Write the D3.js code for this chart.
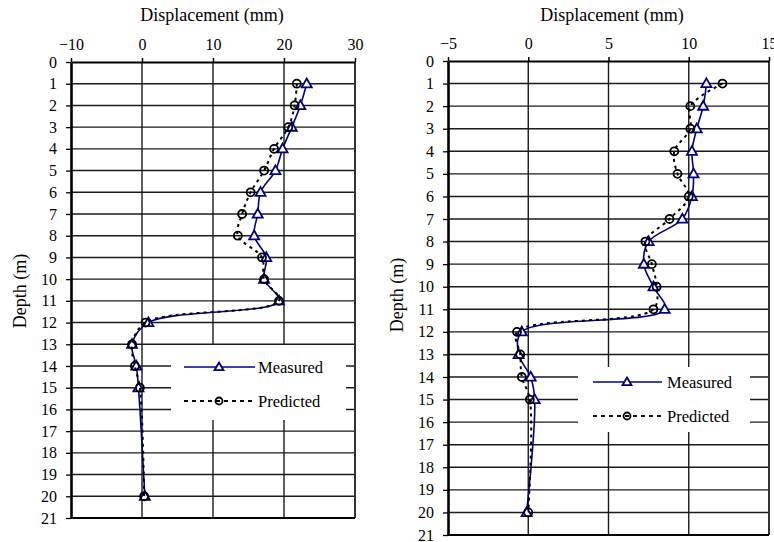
<!DOCTYPE html>
<html>
<head>
<meta charset="utf-8">
<script src="https://cdn.jsdelivr.net/npm/d3@7"></script>
<style>
  body { margin: 0; background: #fff; }
  svg { display: block; }
  svg text { font-family: "Liberation Serif", "Times New Roman", Tinos, "DejaVu Serif", serif !important; fill: #000; }
  .tick text { font-size: 16px; }
  .title { font-size: 18px; }
  .legend { font-size: 16.5px; }
</style>
</head>
<body>
<svg id="chart" width="774" height="542"></svg>
<script>
// ---- Data ----
const depths = [1, 2, 3, 4, 5, 6, 7, 8, 9, 10, 11, 12, 13, 14, 15, 20];

const leftMeasured  = [23.2, 22.3, 21.1, 19.8, 18.8, 16.7, 16.3, 15.8, 17.5, 17.2, 19.3, 0.9, -1.4, -0.8, -0.5, 0.4];
const leftPredicted = [21.8, 21.5, 20.6, 18.6, 17.2, 15.3, 14.1, 13.5, 16.9, 17.2, 19.3, 0.5, -1.4, -1.0, -0.3, 0.3];

const rightMeasured  = [11.1, 10.9, 10.5, 10.2, 10.3, 10.2, 9.6, 7.5, 7.2, 7.8, 8.5, -0.4, -0.6, 0.15, 0.4, -0.1];
const rightPredicted = [12.1, 10.1, 10.1, 9.1, 9.3, 10.0, 8.8, 7.3, 7.7, 8.0, 7.8, -0.7, -0.5, -0.4, 0.1, 0.0];

const leftXTicks  = [-10, 0, 10, 20, 30];
const rightXTicks = [-5, 0, 5, 10, 15];
const depthTicks  = d3.range(0, 22);

const xTitle = "Displacement (mm)";
const yTitle = "Depth (m)";
const seriesNames = ["Measured", "Predicted"];

// ---- Layout ----
const panels = [
  { xDomain: [-10, 30], xTicks: leftXTicks, measured: leftMeasured, predicted: leftPredicted,
    x0: 71, x1: 355, y0: 62, y1: 518, titleX: 212, yTitleX: 20, yTitleY: 291,
    legend: { x0: 171, x1: 346, y0: 345, y1: 420, lineX0: 184, lineX1: 255, mx: 219, textX: 258, y1a: 367, y2a: 401 } },
  { xDomain: [-5, 15], xTicks: rightXTicks, measured: rightMeasured, predicted: rightPredicted,
    x0: 448, x1: 769, y0: 61, y1: 535, titleX: 612, yTitleX: 397, yTitleY: 295,
    legend: { x0: 578, x1: 750, y0: 367, y1: 432, lineX0: 593, lineX1: 662, mx: 627, textX: 667, y1a: 382, y2a: 416 } }
];

const svg = d3.select("#chart");
const navy = "#000080";
const triPath = "M0,-5.2L5,3.6L-5,3.6Z";

panels.forEach(p => {
  const x = d3.scaleLinear().domain(p.xDomain).range([p.x0, p.x1]);
  const y = d3.scaleLinear().domain([0, 21]).range([p.y0, p.y1]);
  const g = svg.append("g");

  // gridlines
  g.append("g").selectAll("line").data(depthTicks.slice(1, -1)).join("line")
    .attr("x1", p.x0).attr("x2", p.x1).attr("y1", d => y(d)).attr("y2", d => y(d))
    .attr("stroke", "#1a1a1a").attr("stroke-width", 1.4);
  g.append("g").selectAll("line").data(p.xTicks.slice(1, -1)).join("line")
    .attr("x1", d => x(d)).attr("x2", d => x(d)).attr("y1", p.y0).attr("y2", p.y1)
    .attr("stroke", "#1a1a1a").attr("stroke-width", 1.4);

  // legend background (hides gridlines)
  const L = p.legend;
  g.append("rect").attr("x", L.x0).attr("y", L.y0).attr("width", L.x1 - L.x0).attr("height", L.y1 - L.y0)
    .attr("fill", "#fff");

  // frame: right and bottom borders
  g.append("line").attr("x1", p.x1).attr("x2", p.x1).attr("y1", p.y0).attr("y2", p.y1)
    .attr("stroke", "#333").attr("stroke-width", 2);
  g.append("line").attr("x1", p.x0).attr("x2", p.x1).attr("y1", p.y1).attr("y2", p.y1)
    .attr("stroke", "#000").attr("stroke-width", 2);

  // top axis
  const xAxis = d3.axisTop(x).tickValues(p.xTicks).tickSize(4).tickPadding(8).tickSizeOuter(0)
    .tickFormat(d3.format("d"));
  const gx = g.append("g").attr("transform", `translate(0,${p.y0})`).call(xAxis)
    .attr("font-family", null).attr("font-size", null);
  gx.select(".domain").attr("stroke", "#000").attr("stroke-width", 1.8);
  gx.selectAll(".tick line").attr("stroke", "#000").attr("stroke-width", 1.5);
  gx.selectAll(".tick text").attr("fill", "#000");

  // left axis
  const yAxis = d3.axisLeft(y).tickValues(depthTicks).tickSize(5).tickPadding(9).tickSizeOuter(0)
    .tickFormat(d3.format("d"));
  const gy = g.append("g").attr("transform", `translate(${p.x0},0)`).call(yAxis)
    .attr("font-family", null).attr("font-size", null);
  gy.select(".domain").attr("stroke", "#000").attr("stroke-width", 2.6);
  gy.selectAll(".tick line").attr("stroke", "#000").attr("stroke-width", 1.3);
  gy.selectAll(".tick text").attr("fill", "#000");

  // titles
  g.append("text").attr("class", "title").attr("x", p.titleX).attr("y", 21).attr("text-anchor", "middle").text(xTitle);
  g.append("text").attr("class", "title").attr("transform", `translate(${p.yTitleX},${p.yTitleY}) rotate(-90)`)
    .attr("text-anchor", "middle").attr("dy", "0.35em").text(yTitle);

  // series
  const line = d3.line().x(d => x(d[0])).y(d => y(d[1])).curve(d3.curveCatmullRom.alpha(0.5));
  const mData = p.measured.map((v, i) => [v, depths[i]]);
  const pData = p.predicted.map((v, i) => [v, depths[i]]);

  g.append("path").attr("d", line(mData)).attr("fill", "none").attr("stroke", navy).attr("stroke-width", 1.6);
  g.append("g").selectAll("path").data(mData).join("path")
    .attr("transform", d => `translate(${x(d[0])},${y(d[1])})`).attr("d", triPath)
    .attr("fill", "#fff").attr("stroke", navy).attr("stroke-width", 1.8);

  g.append("path").attr("d", line(pData)).attr("fill", "none").attr("stroke", "#000")
    .attr("stroke-width", 2).attr("stroke-dasharray", "3,4");
  g.append("g").selectAll("circle").data(pData).join("circle")
    .attr("cx", d => x(d[0])).attr("cy", d => y(d[1])).attr("r", 4)
    .attr("fill", "none").attr("stroke", "#000").attr("stroke-width", 1.8);

  // legend
  g.append("line").attr("x1", L.lineX0).attr("x2", L.lineX1).attr("y1", L.y1a).attr("y2", L.y1a)
    .attr("stroke", navy).attr("stroke-width", 1.6);
  g.append("path").attr("transform", `translate(${L.mx},${L.y1a})`).attr("d", "M0,-4.5L4.5,3.2L-4.5,3.2Z")
    .attr("fill", "#fff").attr("stroke", navy).attr("stroke-width", 1.8);
  g.append("text").attr("class", "legend").attr("x", L.textX).attr("y", L.y1a).attr("dy", "0.35em").text(seriesNames[0]);

  g.append("line").attr("x1", L.lineX0).attr("x2", L.lineX1).attr("y1", L.y2a).attr("y2", L.y2a)
    .attr("stroke", "#000").attr("stroke-width", 2).attr("stroke-dasharray", "4,4");
  g.append("circle").attr("cx", L.mx).attr("cy", L.y2a).attr("r", 3.5)
    .attr("fill", "none").attr("stroke", "#000").attr("stroke-width", 1.8);
  g.append("text").attr("class", "legend").attr("x", L.textX).attr("y", L.y2a).attr("dy", "0.35em").text(seriesNames[1]);
});
</script>
</body>
</html>
